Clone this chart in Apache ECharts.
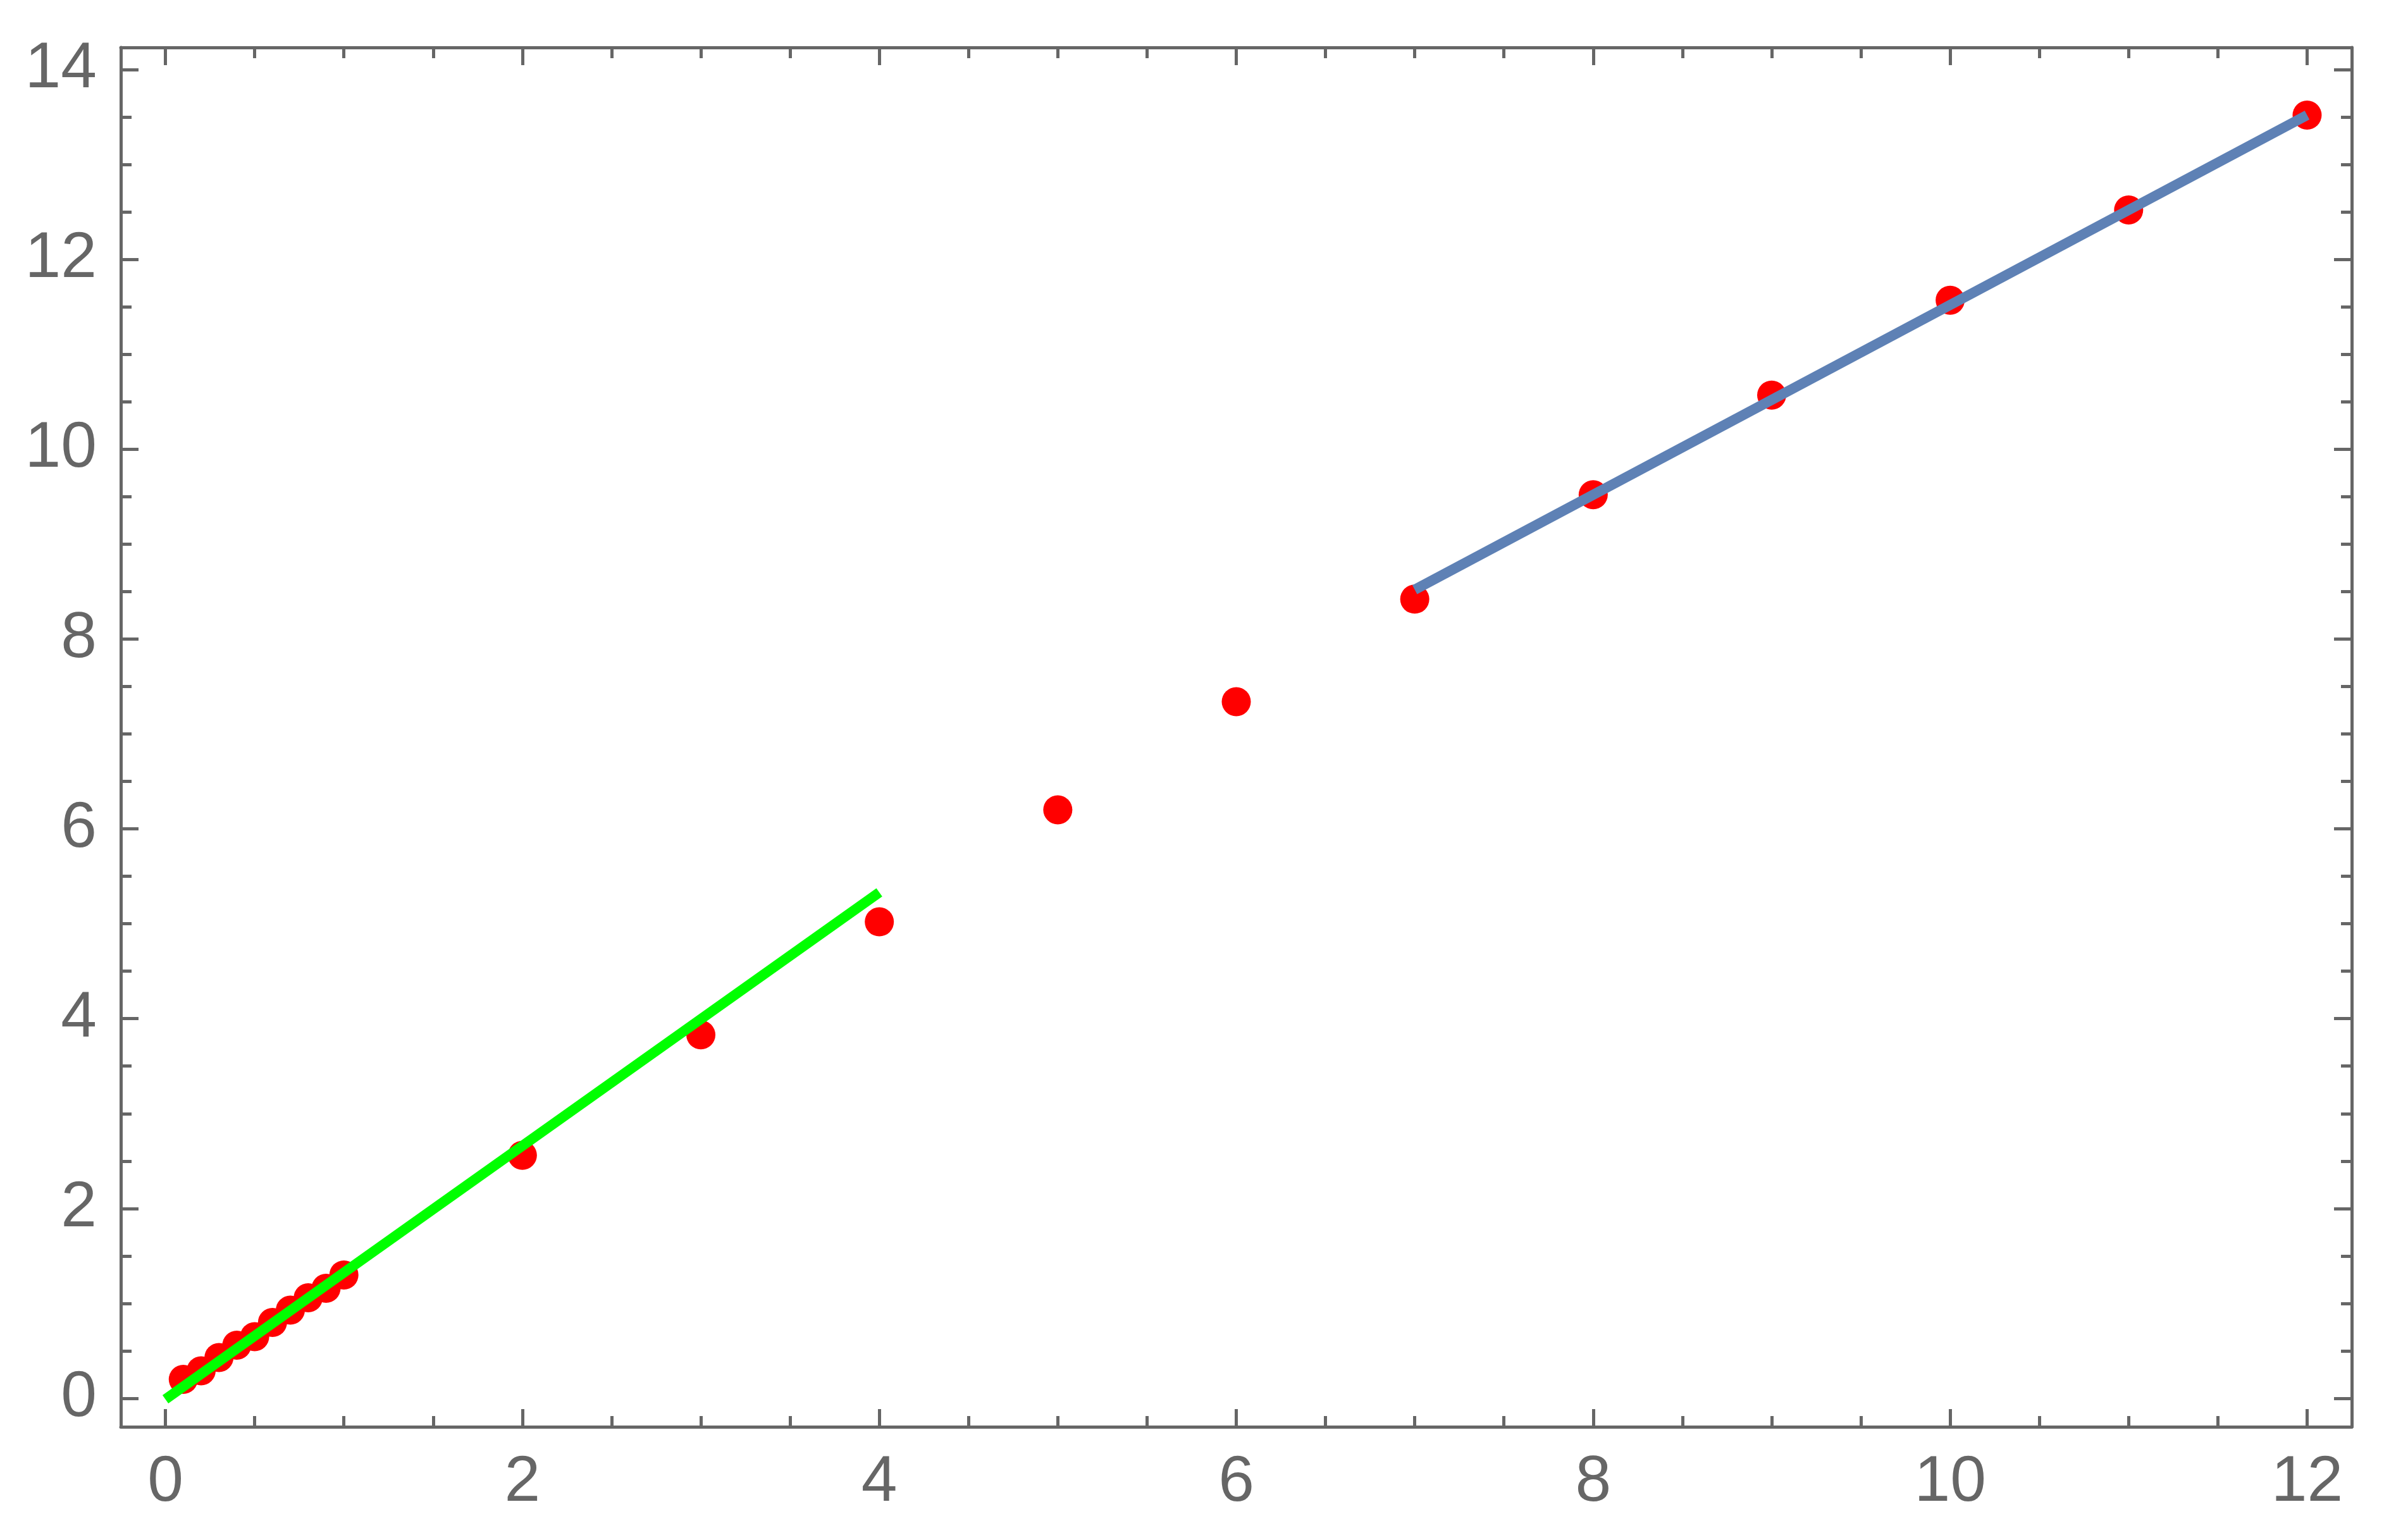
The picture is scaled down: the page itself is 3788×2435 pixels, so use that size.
<!DOCTYPE html>
<html>
<head>
<meta charset="utf-8">
<title>scatter with two fit lines</title>
<script src="https://cdn.jsdelivr.net/npm/echarts@6/dist/echarts.min.js"></script>
<style>
  html, body { margin: 0; padding: 0; background: #fff; }
  #chart { width: 3788px; height: 2435px; }
</style>
</head>
<body>
<div id="chart"></div>
<script>
  // measured points (red)
  const pointsX = [0.1, 0.2, 0.3, 0.4, 0.5, 0.6, 0.7, 0.8, 0.9, 1.0, 2, 3, 4, 5, 6, 7, 8, 9, 10, 11, 12]
  const pointsY = [0.20, 0.29, 0.43, 0.56, 0.65, 0.80, 0.93, 1.06, 1.16, 1.30,
                   2.56, 3.83, 5.02, 6.20, 7.34, 8.42, 9.52, 10.57, 11.57, 12.52, 13.52]

  // fitted lines
  const greenX = [0, 4]
  const greenY = [-0.01, 5.33]
  const blueX = [7, 12]
  const blueY = [8.52, 13.52]

  // ticks
  const xMajor = [0, 2, 4, 6, 8, 10, 12]
  const xMinor = [0.5, 1, 1.5, 2.5, 3, 3.5, 4.5, 5, 5.5, 6.5, 7, 7.5, 8.5, 9, 9.5, 10.5, 11, 11.5]
  const yMajor = [0, 2, 4, 6, 8, 10, 12, 14]
  const yMinor = [0.5, 1, 1.5, 2.5, 3, 3.5, 4.5, 5, 5.5, 6.5, 7, 7.5, 8.5, 9, 9.5, 10.5, 11, 11.5, 12.5, 13, 13.5]

  const frameColor = '#666666'
  const labelFont = {fontFamily: 'Liberation Sans, Arial, sans-serif', fontSize: 102, color: frameColor}

  // one frame side = two overlapping axes (long major ticks + short minor ticks)
  function frameAxes (position, min, max, major, minor, showLabels) {
    const base = {
      type: 'value',
      position: position,
      min: min,
      max: max,
      offset: 0,
      splitLine: {show: false},
      minorTick: {show: false},
      axisPointer: {show: false}
    }
    return [
      Object.assign({}, base, {
        axisLine: {show: true, onZero: false, lineStyle: {color: frameColor, width: 5}},
        axisTick: {show: true, inside: true, length: 28, customValues: major, lineStyle: {color: frameColor, width: 5}},
        axisLabel: Object.assign({show: showLabels, margin: 38, customValues: major}, labelFont)
      }),
      Object.assign({}, base, {
        axisLine: {show: false, onZero: false},
        axisTick: {show: true, inside: true, length: 17, customValues: minor, lineStyle: {color: frameColor, width: 5}},
        axisLabel: {show: false}
      })
    ]
  }

  const chart = echarts.init(document.getElementById('chart'), null, {renderer: 'canvas'})
  chart.setOption({
    animation: false,
    backgroundColor: '#ffffff',
    grid: {left: 191, right: 70, top: 75, bottom: 179, containLabel: false, outerBoundsMode: 'none'},
    xAxis: [].concat(
      frameAxes('bottom', -0.25, 12.25, xMajor, xMinor, true),
      frameAxes('top', -0.25, 12.25, xMajor, xMinor, false)
    ),
    yAxis: [].concat(
      frameAxes('left', -0.3, 14.233, yMajor, yMinor, true),
      frameAxes('right', -0.3, 14.233, yMajor, yMinor, false)
    ),
    series: [{
      name: 'points',
      type: 'scatter',
      xAxisIndex: 0,
      yAxisIndex: 0,
      symbol: 'circle',
      symbolSize: 46,
      itemStyle: {color: '#ff0000', opacity: 1},
      z: 2,
      data: pointsX.map((x, i) => [x, pointsY[i]])
    }, {
      name: 'green fit',
      type: 'line',
      xAxisIndex: 0,
      yAxisIndex: 0,
      symbol: 'none',
      lineStyle: {color: '#00ff00', width: 16, cap: 'butt'},
      z: 3,
      data: greenX.map((x, i) => [x, greenY[i]])
    }, {
      name: 'blue fit',
      type: 'line',
      xAxisIndex: 0,
      yAxisIndex: 0,
      symbol: 'none',
      lineStyle: {color: '#5e81b5', width: 16, cap: 'butt'},
      z: 3,
      data: blueX.map((x, i) => [x, blueY[i]])
    }]
  })
</script>
</body>
</html>
